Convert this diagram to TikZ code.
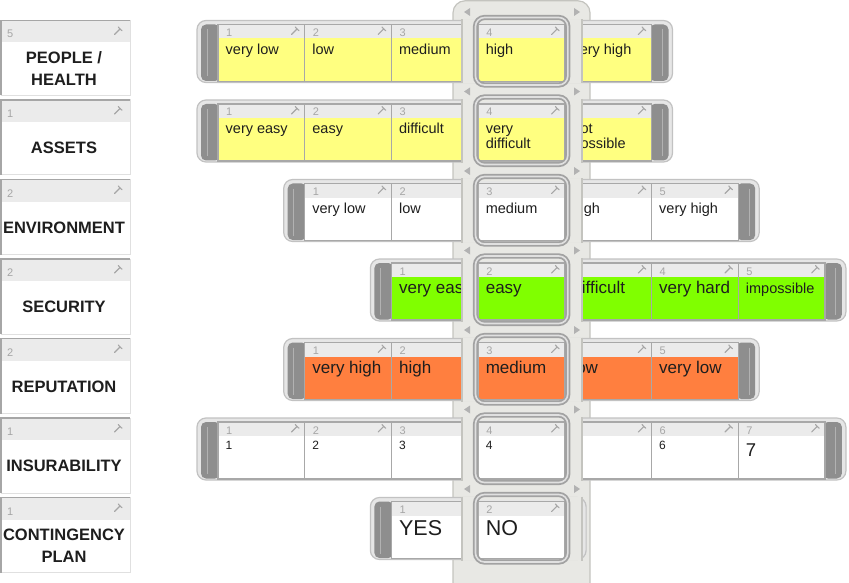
\documentclass[tikz,border=0pt]{standalone}
\usepackage{fontspec}
\setmainfont{Liberation Sans}

\definecolor{yellowcell}{HTML}{FFFF80}
\definecolor{greencell}{HTML}{80FF00}
\definecolor{orangecell}{HTML}{FF7F3F}
\definecolor{headgray}{HTML}{EBEBEB}
\definecolor{linegray}{HTML}{A8A8A8}
\definecolor{rimgray}{HTML}{E6E6E6}
\definecolor{rimedge}{HTML}{C2C2C2}
\definecolor{gripgray}{HTML}{8E8E8E}
\definecolor{framegray}{HTML}{E8E8E4}
\definecolor{frameedge}{HTML}{C4C4BF}
\definecolor{ringgray}{HTML}{A2A2A2}
\definecolor{numgray}{HTML}{A6A6A6}
\definecolor{inkgray}{HTML}{1E1E1E}

\tikzset{
  labelbox/.style={draw=black!12, fill=white, line width=1pt, anchor=north west,
    outer sep=0pt, minimum width=129pt, minimum height=75pt},
  boxedge/.style={draw=black!35, line width=1.4pt},
  labeltext/.style={text=inkgray, align=center, font=\fontsize{16.5}{21.5}\selectfont\bfseries},
  cellbox/.style={anchor=north west, inner sep=0pt, outer sep=0pt,
    minimum width=86.7pt, minimum height=57pt},
  cellline/.style={draw=linegray, line width=1.3pt},
  numtext/.style={anchor=base west, inner sep=0pt, text=numgray, font=\fontsize{11}{11}\selectfont},
  smalltext/.style={anchor=base west, inner sep=0pt, text=inkgray, align=left,
    font=\fontsize{14.5}{15}\selectfont},
  twolines/.style={smalltext, yshift=-15pt},
  bigtext/.style={smalltext, font=\fontsize{17}{18}\selectfont, yshift=-0.5pt},
  hugetext/.style={smalltext, font=\fontsize{21.5}{22}\selectfont, yshift=-4pt},
  digittext/.style={smalltext, font=\fontsize{12}{13}\selectfont, yshift=3pt},
  bigdigit/.style={smalltext, font=\fontsize{18.5}{19}\selectfont, yshift=-4pt},
  wrenchline/.style={draw=numgray, line width=1.1pt, line cap=round},
  rimline/.style={draw=rimedge, fill=rimgray, line width=1.2pt},
  frameline/.style={draw=frameedge, line width=1.2pt},
  ring/.style={draw=ringgray, line width=1.8pt, double=black!12, double distance=1.6pt,
    rounded corners=9pt},
  shifter/.style={fill=black!30}
}

% small spanner in a header band
\newcommand{\wrenchmark}[2]{%
  \draw[wrenchline] (#1-3.5,#2+3.5) -- (#1+2,#2-2);
  \draw[wrenchline] (#1+0.3,#2-4) -- (#1+2,#2-2) -- (#1+4,#2-0.3);
}

% label on the left: name, top, number, text
\newcommand{\riskbox}[4]{%
  \node[labelbox] (#1) at (1,#2) {};
  \fill[headgray] (1.5,#2+0.5) rectangle (130,#2+22);
  \draw[boxedge] (1,#2+75) |- (130,#2);
  \node[numtext] at (7,#2+17.5) {#3};
  \wrenchmark{118}{#2+10.5}
  \node[labeltext] (#1t) at (64,#2+48) {#4};
}

% slider body with grips: first x, last x, top
\newcommand{\scaleframe}[3]{%
  \draw[rimline, rounded corners=9pt] (#1-21,#3) rectangle (#2+21,#3+62);
  \fill[gripgray, rounded corners=5pt] (#1-17,#3+4) rectangle (#1+2,#3+60.5);
  \fill[gripgray, rounded corners=5pt] (#2-2,#3+4) rectangle (#2+17,#3+60.5);
  \draw[black!30, line width=1pt] (#1-11,#3+9) -- (#1-11,#3+56) (#2+11,#3+9) -- (#2+11,#3+56);
}

% one cell: name, x, top, number, fill, text style, text
\newcommand{\scalecell}[7]{%
  \node[cellbox, fill=#5] (#1) at (#2,#3+4) {};
  \fill[headgray] (#1.north west) rectangle (#2+86.7,#3+18);
  \draw[cellline] (#1.north west) rectangle (#1.south east);
  \node[numtext] at (#2+8,#3+16) {#4};
  \wrenchmark{#2+77}{#3+10.5}
  \node[#6] (#1t) at (#2+7.5,#3+34) {#7};
}

% selector window over column 4
\newcommand{\scalewindow}[1]{%
  \fill[framegray, even odd rule] (462,#1-1) rectangle (582,#1+63) (478,#1+2) rectangle (565,#1+62);
  \draw[frameline] (462,#1-1) -- (462,#1+63) (582,#1-1) -- (582,#1+63);
  \draw[ring] (475.5,#1-3) rectangle (567.8,#1+64.5);
  \fill[shifter] (470,#1-12.5) -- (470,#1-4.5) -- (464,#1-8.5) -- cycle;
  \fill[shifter] (574,#1-12.5) -- (574,#1-4.5) -- (580,#1-8.5) -- cycle;
}

\begin{document}
\begin{tikzpicture}[x=1pt, y=-1pt]
\useasboundingbox (0,0) rectangle (849,583);

% labels
\riskbox{people}{20.5}{5}{PEOPLE /\\HEALTH}
\riskbox{assets}{100}{1}{ASSETS}
\riskbox{environment}{179.5}{2}{ENVIRONMENT}
\riskbox{security}{259}{2}{SECURITY}
\riskbox{reputation}{338.5}{2}{REPUTATION}
\riskbox{insurability}{418}{1}{INSURABILITY}
\riskbox{contingency}{497.5}{1}{CONTINGENCY\\PLAN}

% frame behind the sliders
\draw[frameline, fill=framegray, rounded corners=12pt] (453,600) |- (590,0.8) -- (590,600);

% people / health
\scaleframe{218}{651.5}{20.5}
\foreach \n/\t [evaluate=\n as \xx using 218+86.7*(\n-1)] in
  {1/very low,2/low,3/medium,4/high,5/very high}
  {\scalecell{health\n}{\xx}{20.5}{\n}{yellowcell}{smalltext}{\t}}

% assets
\scaleframe{218}{651.5}{100}
\foreach \n/\t/\s [evaluate=\n as \xx using 218+86.7*(\n-1)] in
  {1/very easy/smalltext,2/easy/smalltext,3/difficult/smalltext,
   4/very\\difficult/twolines,5/not\\possible/twolines}
  {\scalecell{assets\n}{\xx}{100}{\n}{yellowcell}{\s}{\t}}

% environment
\scaleframe{304.7}{738.2}{179.5}
\foreach \n/\t [evaluate=\n as \xx using 218+86.7*\n] in
  {1/very low,2/low,3/medium,4/high,5/very high}
  {\scalecell{envir\n}{\xx}{179.5}{\n}{white}{smalltext}{\t}}

% security
\scaleframe{391.4}{824.9}{259}
\foreach \n/\t/\s [evaluate=\n as \xx using 218+86.7*(\n+1)] in
  {1/very easy/bigtext,2/easy/bigtext,3/difficult/bigtext,4/very hard/bigtext,5/impossible/smalltext}
  {\scalecell{secur\n}{\xx}{259}{\n}{greencell}{\s}{\t}}

% reputation
\scaleframe{304.7}{738.2}{338.5}
\foreach \n/\t [evaluate=\n as \xx using 218+86.7*\n] in
  {1/very high,2/high,3/medium,4/low,5/very low}
  {\scalecell{reput\n}{\xx}{338.5}{\n}{orangecell}{bigtext}{\t}}

% insurability
\scaleframe{218}{824.9}{418}
\foreach \n/\s [evaluate=\n as \xx using 218+86.7*(\n-1)] in
  {1/digittext,2/digittext,3/digittext,4/digittext,5/digittext,6/digittext,7/bigdigit}
  {\scalecell{insur\n}{\xx}{418}{\n}{white}{\s}{\n}}

% contingency plan
\scaleframe{391.4}{565.1}{497.5}
\foreach \n/\t [evaluate=\n as \xx using 218+86.7*(\n+1)] in
  {1/YES,2/NO}
  {\scalecell{plan\n}{\xx}{497.5}{\n}{white}{hugetext}{\t}}

% windows
\foreach \r in {20.5,100,179.5,259,338.5,418,497.5}
  {\scalewindow{\r}}
\end{tikzpicture}
\end{document}
